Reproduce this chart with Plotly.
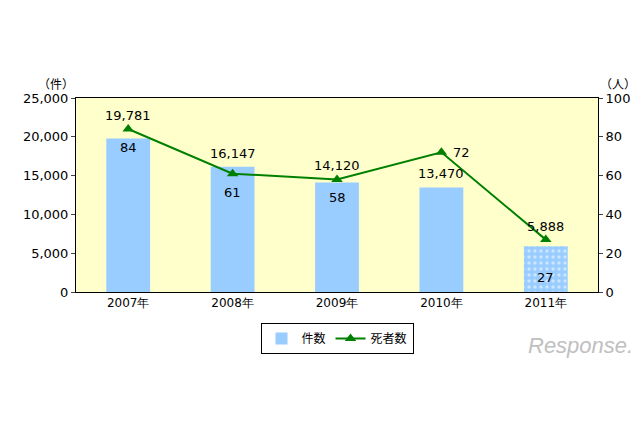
import plotly.graph_objects as go

years = ["2007年", "2008年", "2009年", "2010年", "2011年"]
cases = [19781, 16147, 14120, 13470, 5888]
deaths = [84, 61, 58, 72, 27]
case_labels = ["19,781", "16,147", "14,120", "13,470", "5,888"]

blue = "#99CCFF"
fnt = "DejaVu Sans"
fig = go.Figure()
fig.add_trace(go.Bar(
    x=years, y=cases, name="件数",
    marker=dict(color=blue, line=dict(width=0),
                pattern=dict(shape=["", "", "", "", "."], fgcolor="white",
                             bgcolor=blue, size=6, solidity=0.25)),
    width=0.42))
fig.add_trace(go.Scatter(
    x=years, y=deaths, name="死者数", yaxis="y2", mode="lines+markers",
    line=dict(color="#008000", width=2),
    marker=dict(symbol="triangle-up", size=10, color="#008000")))

anns = []
for i, (yr, c, d, lab) in enumerate(zip(years, cases, deaths, case_labels)):
    top = c if i == 3 else max(c, d * 250)
    anns.append(dict(x=yr, y=top, text=lab, showarrow=False, yanchor="bottom",
                     yshift=4, font=dict(size=13, family=fnt)))
    if i == 3:
        anns.append(dict(x=yr, y=d, yref="y2", text=str(d), showarrow=False,
                         xanchor="left", xshift=10, font=dict(size=13, family=fnt)))
    elif i == 4:
        anns.append(dict(x=yr, y=0, text=str(d), showarrow=False, yanchor="bottom",
                         yshift=5, font=dict(size=13, family=fnt)))
    else:
        anns.append(dict(x=yr, y=d, yref="y2", text=str(d), showarrow=False,
                         yanchor="top", yshift=-9, font=dict(size=13, family=fnt)))

anns += [
    dict(text="（件）", x=0, xref="paper", xanchor="right", y=1.02, yref="paper",
         yanchor="bottom", showarrow=False, font=dict(size=12)),
    dict(text="（人）", x=1, xref="paper", xanchor="left", y=1.02, yref="paper",
         yanchor="bottom", showarrow=False, font=dict(size=12)),
    dict(text="<i>Response.</i>", x=1.07, xanchor="right", y=-0.2, yanchor="top",
         xref="paper", yref="paper", showarrow=False,
         font=dict(size=22, color="#C0C0C0", family="Liberation Sans")),
]

fig.update_layout(
    width=640, height=426, paper_bgcolor="white", plot_bgcolor="#FFFFCC",
    margin=dict(l=68, r=50, t=90, b=142),
    font=dict(family="Noto Sans CJK JP", size=12, color="#000"),
    bargap=0.58, showlegend=True,
    legend=dict(orientation="h", x=0.5, xanchor="center", y=-0.16, yanchor="top",
                bordercolor="#000", borderwidth=1, font=dict(size=12)),
    xaxis=dict(showline=True, linecolor="#000", mirror=True, ticks="",
               tickfont=dict(size=12, family=fnt)),
    yaxis=dict(range=[0, 25000], dtick=5000, tickformat=",", showgrid=False,
               showline=True, linecolor="#000", ticks="outside", ticklen=4, zeroline=False,
               tickfont=dict(size=13, family=fnt)),
    yaxis2=dict(range=[0, 100], dtick=20, overlaying="y", side="right", showgrid=False,
                showline=True, linecolor="#000", ticks="outside", ticklen=4, zeroline=False,
                tickfont=dict(size=13, family=fnt)),
    annotations=anns)
fig.write_html("out.html")
